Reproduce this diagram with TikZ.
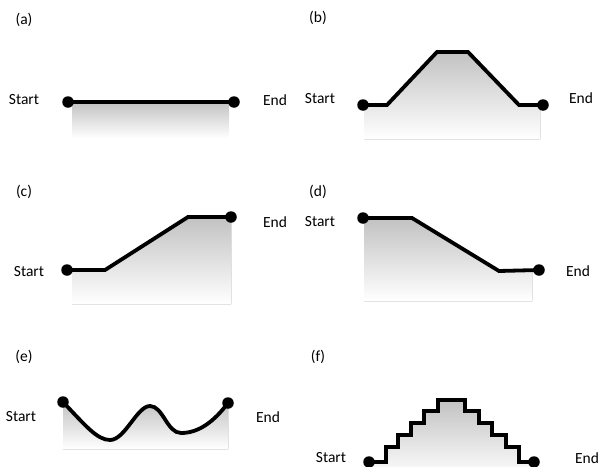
\documentclass[tikz,border=0pt]{standalone}
\usepackage{fontspec}
\setmainfont{Carlito}
\begin{document}
\begin{tikzpicture}[x=1pt,y=-1pt,
  lbl/.style={font=\fontsize{15.5}{18}\selectfont, inner sep=0pt},
  dot/.style={circle, fill=black, inner sep=0pt, minimum size=11.5pt},
  track/.style={line width=3.8pt},
  fadefill/.style={top color=black!24, bottom color=white, draw=none}]
\useasboundingbox (0,0) rectangle (602,466);

% ---------- (a) flat profile ----------
\node[lbl] (ta) at (24,20) {(a)};
\node[lbl] (sa) at (24,100) {Start};
\node[lbl] (ea) at (275,100) {End};
\fill[fadefill] (72,102) rectangle (229,138);
\node[dot] (a1) at (68,102) {};
\node[dot] (a2) at (234,102) {};
\draw[track] (a1.center) -- (a2.center);

% ---------- (b) up, plateau, down ----------
\node[lbl] (tb) at (318,18) {(b)};
\node[lbl] (sb) at (320,99) {Start};
\node[lbl] (eb) at (581,98) {End};
\fill[fadefill] (364,105) -- (387,105) -- (437,52) -- (468,52) -- (519,105)
  -- (540,105) -- (540,139) -- (364,139) -- cycle;
\node[dot] (b1) at (363,105) {};
\node[dot] (b2) at (543,105) {};
\draw[track] (b1.center) -- (387,105) -- (437,52) -- (468,52) -- (519,105) -- (b2.center);

% ---------- (c) climb to the end ----------
\node[lbl] (tc) at (24,192) {(c)};
\node[lbl] (sc) at (29,272) {Start};
\node[lbl] (ec) at (275,222) {End};
\fill[fadefill] (72,270) -- (105,270) -- (188,217) -- (231,217) -- (231,304)
  -- (72,304) -- cycle;
\node[dot] (c1) at (67,270) {};
\node[dot] (c2) at (231,217) {};
\draw[track] (c1.center) -- (105,270) -- (188,217) -- (c2.center);

% ---------- (d) descent to the end ----------
\node[lbl] (td) at (318,192) {(d)};
\node[lbl] (sd) at (320,222) {Start};
\node[lbl] (ed) at (578,271) {End};
\fill[fadefill] (364,218) -- (412,218) -- (499,271) -- (532,271) -- (532,301)
  -- (364,301) -- cycle;
\node[dot] (d1) at (363,218) {};
\node[dot] (d2) at (539,270) {};
\draw[track] (d1.center) -- (412,218) -- (499,271) -- (d2.center);

% ---------- (e) wavy profile ----------
\node[lbl] (te) at (24,357) {(e)};
\node[lbl] (se) at (21,417) {Start};
\node[lbl] (ee) at (268,417) {End};
\fill[fadefill] (63,402) .. controls (85,425) and (97,440) .. (110,440)
  .. controls (125,440) and (137,406) .. (150,406)
  .. controls (163,406) and (167,433) .. (181,433)
  .. controls (200,433) and (215,420) .. (228,403)
  -- (228,449) -- (63,449) -- cycle;
\node[dot] (e1) at (63,402) {};
\node[dot] (e2) at (228,403) {};
\draw[track, line cap=round] (e1.center) .. controls (85,425) and (97,440) .. (110,440)
  .. controls (125,440) and (137,406) .. (150,406)
  .. controls (163,406) and (167,433) .. (181,433)
  .. controls (200,433) and (215,420) .. (e2.center);

% ---------- (f) staircase ----------
\node[lbl] (tf) at (318,357) {(f)};
\node[lbl] (sf) at (331,458) {Start};
\node[lbl] (ef) at (587,458) {End};
\fill[fadefill] (372,462) -- (386,462) -- (386,447) -- (398,447) -- (398,435)
  -- (411,435) -- (411,423) -- (424,423) -- (424,411) -- (438,411) -- (438,400)
  -- (465,400) -- (465,411) -- (479,411) -- (479,423) -- (492,423) -- (492,435)
  -- (506,435) -- (506,447) -- (519,447) -- (519,462) -- (531,462) -- (531,478)
  -- (372,478) -- cycle;
\node[dot] (f1) at (369,462) {};
\node[dot] (f2) at (534,462) {};
\draw[track] (f1.center) -- (386,462) -- (386,447) -- (398,447) -- (398,435)
  -- (411,435) -- (411,423) -- (424,423) -- (424,411) -- (438,411) -- (438,400)
  -- (465,400) -- (465,411) -- (479,411) -- (479,423) -- (492,423) -- (492,435)
  -- (506,435) -- (506,447) -- (519,447) -- (519,462) -- (f2.center);
\end{tikzpicture}
\end{document}
